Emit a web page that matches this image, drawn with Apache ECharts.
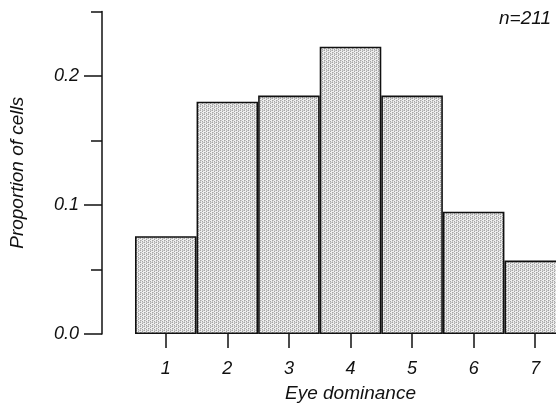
<!DOCTYPE html>
<html>
<head>
<meta charset="utf-8">
<style>
  html, body { margin: 0; padding: 0; background: #fff; }
  #chart { width: 556px; height: 404px; }
</style>
<script src="https://cdn.jsdelivr.net/npm/echarts@6/dist/echarts.min.js"></script>
</head>
<body>
<div id="chart"></div>
<script>
// Eye dominance classes and the proportion of cells in each (n = 211)
const categories = ['1', '2', '3', '4', '5', '6', '7'];
const proportions = [0.0758, 0.1801, 0.1848, 0.2227, 0.1848, 0.0948, 0.0569];
const majorTicks = [0, 0.1, 0.2];
const minorTicks = [0.05, 0.15, 0.25];
const sampleLabel = 'n=211';

// fine stipple fill for the bars
function stipple() {
  const c = document.createElement('canvas');
  c.width = 4; c.height = 4;
  const g = c.getContext('2d');
  g.fillStyle = '#eeeeee'; g.fillRect(0, 0, 4, 4);
  g.fillStyle = '#a4a4a4';
  [[0, 0], [2, 1], [0, 2], [2, 3]].forEach(([x, y]) => g.fillRect(x, y, 1, 1));
  g.fillStyle = '#c8c8c8';
  [[1, 0], [3, 2], [0, 1], [2, 2]].forEach(([x, y]) => g.fillRect(x, y, 1, 1));
  return c;
}

const font = 'Liberation Sans, Arial, Helvetica, sans-serif';
const ink = '#111';

const chart = echarts.init(document.getElementById('chart'), null, { renderer: 'canvas' });
chart.setOption({
  animation: false,
  backgroundColor: '#fff',
  grid: { left: 135, width: 431, top: 11.5, bottom: 70, containLabel: false, outerBoundsMode: 'none' },
  xAxis: {
    type: 'category',
    data: categories,
    offset: 3,
    name: 'Eye dominance',
    nameLocation: 'middle',
    nameGap: 47,
    nameTextStyle: { fontFamily: font, fontStyle: 'italic', fontSize: 19, color: ink },
    axisLine: { show: false },
    axisTick: { show: true, alignWithLabel: true, length: 14, lineStyle: { color: ink, width: 1.5 } },
    axisLabel: { margin: 23, fontFamily: font, fontStyle: 'italic', fontSize: 18, color: ink },
    splitLine: { show: false }
  },
  yAxis: [
    {
      type: 'value',
      min: 0, max: 0.25,
      offset: 33,
      name: 'Proportion of cells',
      nameLocation: 'middle',
      nameGap: 75,
      nameTextStyle: { fontFamily: font, fontStyle: 'italic', fontSize: 19, color: ink },
      axisLine: { show: true, lineStyle: { color: ink, width: 1.5 } },
      axisTick: { show: true, length: 18, customValues: majorTicks, lineStyle: { color: ink, width: 1.5 } },
      axisLabel: {
        margin: 23, customValues: majorTicks,
        formatter: v => v.toFixed(1),
        fontFamily: font, fontStyle: 'italic', fontSize: 18, color: ink
      },
      splitLine: { show: false }
    },
    {
      type: 'value',
      min: 0, max: 0.25,
      offset: 33,
      position: 'left',
      axisLine: { show: false },
      axisTick: { show: true, length: 11, customValues: minorTicks, lineStyle: { color: ink, width: 1.5 } },
      axisLabel: { show: false },
      splitLine: { show: false }
    }
  ],
  series: [{
    type: 'bar',
    data: proportions,
    barCategoryGap: '0%',
    itemStyle: {
      color: { image: stipple(), repeat: 'repeat' },
      borderColor: ink,
      borderWidth: 1.6
    }
  }],
  graphic: [{
    type: 'text',
    right: 5,
    top: 9,
    style: { text: sampleLabel, font: 'italic 19px ' + font, fill: ink }
  }]
});
</script>
</body>
</html>
